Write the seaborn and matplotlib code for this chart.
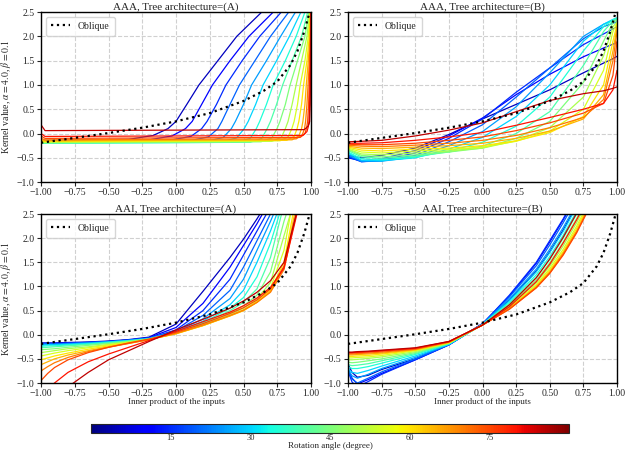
import numpy as np
import pandas as pd
import seaborn as sns
import matplotlib as mpl
import matplotlib.pyplot as plt

# rotation angles (degree) of the curves
angles = [5, 10, 15, 20, 25, 30, 35, 40, 45, 50, 55, 60, 65, 70, 75, 80, 85]

# oblique reference curve (same in all panels)
oblique_x = [-1.0, -0.75, -0.5, -0.25, 0.0, 0.25, 0.5, 0.65, 0.75, 0.85, 0.9, 0.95, 0.98, 1.0]
oblique_y = [-0.19, -0.09, 0.01, 0.12, 0.25, 0.42, 0.67, 0.88, 1.07, 1.42, 1.7, 2.1, 2.4, 2.6]

# AAA, tree (A): one x list and one y list per angle
aaa_a_x = [
    [-1, -0.97, -0.35, -0.17, -0.06, 0.0, 0.08, 0.17, 0.31, 0.45, 0.635],
    [-1, -0.97, -0.2, -0.03, 0.07, 0.12, 0.19, 0.27, 0.40, 0.54, 0.72],
    [-1, -0.97, -0.05, 0.11, 0.19, 0.23, 0.30, 0.37, 0.49, 0.62, 0.78],
    [-1, -0.97, 0.1, 0.24, 0.31, 0.34, 0.40, 0.47, 0.585, 0.70, 0.835],
    [-1, -0.97, 0.23, 0.35, 0.41, 0.44, 0.50, 0.56, 0.67, 0.775, 0.885],
    [-1, -0.97, 0.34, 0.45, 0.505, 0.535, 0.59, 0.645, 0.745, 0.84, 0.925],
    [-1, -0.97, 0.45, 0.55, 0.595, 0.62, 0.67, 0.72, 0.81, 0.89, 0.955],
    [-1, -0.97, 0.55, 0.635, 0.675, 0.70, 0.745, 0.79, 0.86, 0.93, 0.975],
    [-1, -0.97, 0.63, 0.71, 0.748, 0.77, 0.81, 0.845, 0.90, 0.955, 0.985],
    [-1, -0.97, 0.71, 0.78, 0.81, 0.83, 0.86, 0.89, 0.93, 0.97, 0.99],
    [-1, -0.97, 0.77, 0.83, 0.858, 0.875, 0.90, 0.92, 0.955, 0.98, 0.993],
    [-1, -0.97, 0.82, 0.875, 0.897, 0.91, 0.93, 0.945, 0.97, 0.987, 0.995],
    [-1, -0.97, 0.86, 0.91, 0.93, 0.94, 0.955, 0.965, 0.98, 0.992, 0.997],
    [-1, -0.97, 0.89, 0.935, 0.952, 0.96, 0.97, 0.978, 0.988, 0.995, 0.998],
    [-1, -0.97, 0.92, 0.955, 0.968, 0.975, 0.982, 0.987, 0.993, 0.997, 0.999],
    [-1, -0.97, 0.94, 0.97, 0.98, 0.985, 0.99, 0.993, 0.996, 0.998, 1.0],
    [-1, -0.97, 0.95, 0.978, 0.986, 0.99, 0.994, 0.996, 0.998, 0.999, 1.0],
]
aaa_a_y = [
    [-0.15, -0.14, -0.12, -0.04, 0.1, 0.25, 0.6, 1.0, 1.5, 2.0, 2.5],
    [-0.16, -0.15, -0.13, -0.05, 0.1, 0.25, 0.6, 1.0, 1.5, 2.0, 2.5],
    [-0.17, -0.16, -0.14, -0.06, 0.1, 0.25, 0.6, 1.0, 1.5, 2.0, 2.5],
    [-0.18, -0.17, -0.15, -0.07, 0.1, 0.25, 0.6, 1.0, 1.5, 2.0, 2.5],
    [-0.19, -0.18, -0.16, -0.08, 0.1, 0.25, 0.6, 1.0, 1.5, 2.0, 2.5],
    [-0.2, -0.19, -0.17, -0.09, 0.1, 0.25, 0.6, 1.0, 1.5, 2.0, 2.5],
    [-0.2, -0.2, -0.18, -0.1, 0.1, 0.25, 0.6, 1.0, 1.5, 2.0, 2.5],
    [-0.2, -0.2, -0.18, -0.1, 0.1, 0.25, 0.6, 1.0, 1.5, 2.0, 2.5],
    [-0.19, -0.19, -0.17, -0.09, 0.1, 0.25, 0.6, 1.0, 1.5, 2.0, 2.5],
    [-0.18, -0.18, -0.16, -0.08, 0.1, 0.25, 0.6, 1.0, 1.5, 2.0, 2.5],
    [-0.17, -0.17, -0.15, -0.07, 0.1, 0.25, 0.6, 1.0, 1.5, 2.0, 2.5],
    [-0.15, -0.16, -0.14, -0.06, 0.1, 0.25, 0.6, 1.0, 1.5, 2.0, 2.5],
    [-0.13, -0.15, -0.13, -0.05, 0.1, 0.25, 0.6, 1.0, 1.5, 2.0, 2.5],
    [-0.1, -0.13, -0.11, -0.03, 0.1, 0.25, 0.6, 1.0, 1.5, 2.0, 2.5],
    [-0.05, -0.1, -0.08, 0.0, 0.12, 0.25, 0.6, 1.0, 1.5, 2.0, 2.5],
    [0.0, -0.06, -0.04, 0.04, 0.14, 0.25, 0.6, 1.0, 1.5, 2.0, 2.5],
    [0.18, 0.06, 0.08, 0.15, 0.2, 0.25, 0.6, 1.0, 1.5, 2.0, 2.5],
]

# AAA, tree (B): values on a shared x grid
aaa_b_grid = [-1.0, -0.9, -0.75, -0.5, -0.25, 0.0, 0.25, 0.5, 0.75, 0.9, 0.97, 1.0]
aaa_b_y = [
    [-0.45, -0.5, -0.45, -0.3, -0.02, 0.3, 0.6, 0.9, 1.25, 1.45, 1.54, 1.59],
    [-0.5, -0.56, -0.52, -0.35, -0.05, 0.32, 0.8, 1.22, 1.58, 1.76, 1.84, 1.87],
    [-0.48, -0.58, -0.55, -0.4, -0.1, 0.3, 0.85, 1.35, 1.83, 2.05, 2.15, 2.2],
    [-0.46, -0.58, -0.56, -0.45, -0.17, 0.18, 0.75, 1.35, 1.95, 2.2, 2.27, 2.3],
    [-0.43, -0.57, -0.57, -0.48, -0.25, 0.04, 0.55, 1.25, 2.0, 2.25, 2.33, 2.36],
    [-0.4, -0.55, -0.56, -0.5, -0.32, -0.08, 0.35, 1.0, 1.9, 2.25, 2.35, 2.38],
    [-0.38, -0.52, -0.54, -0.49, -0.36, -0.18, 0.15, 0.75, 1.7, 2.2, 2.34, 2.38],
    [-0.35, -0.48, -0.51, -0.47, -0.38, -0.26, 0.0, 0.45, 1.4, 2.1, 2.32, 2.36],
    [-0.33, -0.45, -0.48, -0.44, -0.38, -0.3, -0.1, 0.25, 1.05, 1.9, 2.28, 2.34],
    [-0.32, -0.42, -0.44, -0.4, -0.36, -0.3, -0.15, 0.12, 0.75, 1.6, 2.2, 2.3],
    [-0.3, -0.38, -0.4, -0.36, -0.33, -0.28, -0.16, 0.05, 0.5, 1.3, 2.1, 2.28],
    [-0.28, -0.34, -0.36, -0.32, -0.3, -0.25, -0.15, 0.02, 0.35, 1.0, 1.9, 2.25],
    [-0.26, -0.3, -0.31, -0.28, -0.25, -0.2, -0.1, 0.05, 0.3, 0.8, 1.7, 2.2],
    [-0.24, -0.26, -0.27, -0.24, -0.2, -0.14, -0.04, 0.12, 0.33, 0.7, 1.5, 2.1],
    [-0.22, -0.23, -0.23, -0.2, -0.14, -0.07, 0.06, 0.22, 0.42, 0.62, 1.2, 1.9],
    [-0.2, -0.2, -0.19, -0.14, -0.07, 0.02, 0.17, 0.33, 0.5, 0.62, 0.9, 1.3],
    [-0.17, -0.16, -0.14, -0.05, 0.07, 0.22, 0.45, 0.68, 0.82, 0.88, 0.93, 0.96],
]

# AAI, tree (A)
aai_a_grid = [-1.0, -0.95, -0.9, -0.8, -0.65, -0.5, -0.35, -0.2, 0.0, 0.2, 0.4, 0.5, 0.6, 0.7, 0.8, 0.9]
aai_a_y = [
    [-0.17, -0.17, -0.17, -0.16, -0.15, -0.13, -0.1, -0.05, 0.22, 0.9, 1.6, 1.98, 2.4, 2.85, 3.3, 3.8],
    [-0.18, -0.18, -0.18, -0.17, -0.16, -0.14, -0.11, -0.06, 0.15, 0.65, 1.4, 1.85, 2.3, 2.8, 3.3, 3.8],
    [-0.18, -0.18, -0.18, -0.17, -0.16, -0.14, -0.11, -0.07, 0.1, 0.5, 1.15, 1.65, 2.15, 2.65, 3.2, 3.7],
    [-0.19, -0.19, -0.19, -0.18, -0.16, -0.14, -0.11, -0.07, 0.08, 0.4, 0.92, 1.4, 1.95, 2.5, 3.1, 3.7],
    [-0.2, -0.2, -0.2, -0.19, -0.17, -0.15, -0.12, -0.08, 0.06, 0.33, 0.75, 1.15, 1.75, 2.35, 3.0, 3.6],
    [-0.22, -0.21, -0.21, -0.2, -0.18, -0.15, -0.12, -0.08, 0.05, 0.28, 0.62, 0.92, 1.5, 2.15, 2.9, 3.6],
    [-0.24, -0.23, -0.23, -0.21, -0.19, -0.16, -0.13, -0.09, 0.04, 0.25, 0.55, 0.77, 1.2, 1.9, 2.8, 3.5],
    [-0.27, -0.26, -0.25, -0.23, -0.2, -0.17, -0.13, -0.09, 0.04, 0.23, 0.5, 0.67, 0.95, 1.6, 2.7, 3.5],
    [-0.31, -0.3, -0.29, -0.26, -0.22, -0.18, -0.14, -0.09, 0.04, 0.21, 0.45, 0.6, 0.82, 1.3, 2.35, 3.2],
    [-0.37, -0.35, -0.33, -0.29, -0.25, -0.2, -0.15, -0.1, 0.03, 0.2, 0.42, 0.55, 0.75, 1.08, 2.05, 3.0],
    [-0.44, -0.41, -0.38, -0.33, -0.27, -0.21, -0.16, -0.1, 0.03, 0.19, 0.4, 0.52, 0.7, 0.97, 1.75, 3.3],
    [-0.52, -0.48, -0.44, -0.38, -0.3, -0.23, -0.17, -0.1, 0.02, 0.19, 0.39, 0.5, 0.68, 0.92, 1.5, 3.0],
    [-0.62, -0.56, -0.5, -0.42, -0.33, -0.25, -0.18, -0.1, 0.02, 0.19, 0.39, 0.5, 0.67, 0.9, 1.4, 2.8],
    [-0.75, -0.66, -0.58, -0.47, -0.35, -0.26, -0.18, -0.1, 0.03, 0.2, 0.4, 0.51, 0.67, 0.88, 1.35, 2.65],
    [-0.95, -0.8, -0.68, -0.52, -0.37, -0.26, -0.17, -0.09, 0.05, 0.23, 0.44, 0.56, 0.72, 0.95, 1.42, 2.6],
    [-1.35, -1.15, -1.0, -0.78, -0.56, -0.4, -0.26, -0.12, 0.07, 0.27, 0.47, 0.6, 0.76, 0.98, 1.38, 2.55],
    [-2.0, -1.6, -1.35, -1.08, -0.78, -0.52, -0.33, -0.14, 0.1, 0.32, 0.55, 0.7, 0.88, 1.12, 1.5, 2.6],
]

# AAI, tree (B)
aai_b_grid = [-1.0, -0.97, -0.93, -0.85, -0.75, -0.5, -0.25, 0.0, 0.2, 0.4, 0.5, 0.6, 0.7, 0.8]
aai_b_y = [
    [-0.6, -0.78, -0.88, -0.84, -0.72, -0.5, -0.2, 0.23, 0.72, 1.32, 1.72, 2.17, 2.68, 3.2],
    [-0.7, -0.9, -1.02, -0.93, -0.8, -0.52, -0.21, 0.23, 0.8, 1.48, 1.92, 2.38, 2.88, 3.4],
    [-0.75, -0.98, -1.08, -0.97, -0.82, -0.52, -0.21, 0.22, 0.82, 1.5, 1.95, 2.4, 2.9, 3.4],
    [-0.74, -0.92, -1.0, -0.9, -0.77, -0.5, -0.21, 0.22, 0.78, 1.43, 1.86, 2.32, 2.82, 3.3],
    [-0.72, -0.85, -0.9, -0.82, -0.7, -0.47, -0.2, 0.22, 0.74, 1.36, 1.77, 2.22, 2.72, 3.25],
    [-0.7, -0.78, -0.8, -0.74, -0.65, -0.44, -0.2, 0.21, 0.7, 1.3, 1.7, 2.14, 2.65, 3.2],
    [-0.66, -0.7, -0.7, -0.66, -0.59, -0.41, -0.19, 0.21, 0.67, 1.24, 1.62, 2.06, 2.56, 3.1],
    [-0.62, -0.64, -0.63, -0.6, -0.54, -0.39, -0.18, 0.21, 0.64, 1.19, 1.56, 2.0, 2.5, 3.05],
    [-0.57, -0.58, -0.57, -0.54, -0.5, -0.37, -0.18, 0.21, 0.61, 1.13, 1.49, 1.92, 2.41, 2.95],
    [-0.52, -0.52, -0.51, -0.49, -0.46, -0.35, -0.17, 0.2, 0.58, 1.08, 1.42, 1.84, 2.32, 2.88],
    [-0.48, -0.48, -0.47, -0.46, -0.43, -0.33, -0.17, 0.2, 0.56, 1.04, 1.37, 1.77, 2.25, 2.8],
    [-0.45, -0.45, -0.44, -0.43, -0.4, -0.32, -0.16, 0.2, 0.55, 1.01, 1.33, 1.72, 2.2, 2.75],
    [-0.42, -0.42, -0.41, -0.4, -0.38, -0.31, -0.16, 0.2, 0.54, 0.99, 1.3, 1.69, 2.15, 2.7],
    [-0.4, -0.4, -0.39, -0.38, -0.36, -0.3, -0.15, 0.2, 0.53, 0.98, 1.28, 1.67, 2.13, 2.68],
    [-0.38, -0.38, -0.37, -0.36, -0.34, -0.29, -0.15, 0.2, 0.53, 0.97, 1.27, 1.65, 2.11, 2.66],
    [-0.37, -0.37, -0.36, -0.35, -0.33, -0.28, -0.14, 0.2, 0.58, 1.1, 1.46, 1.9, 2.38, 2.92],
    [-0.36, -0.36, -0.35, -0.34, -0.32, -0.27, -0.14, 0.2, 0.62, 1.18, 1.57, 2.02, 2.52, 3.05],
]

sns.set_style("ticks")
plt.rcParams['font.family'] = ['Liberation Serif', 'DejaVu Serif']
plt.rcParams['mathtext.fontset'] = 'stix'

jet = mpl.colormaps['jet']


def to_frame(xs_list, ys_list):
    rows = []
    for ang, xs, ys in zip(angles, xs_list, ys_list):
        for x, y in zip(xs, ys):
            rows.append((ang, x, y))
    return pd.DataFrame(rows, columns=['angle', 'x', 'y'])


def draw_panel(ax, df, title, left, bottom):
    sns.lineplot(data=df, x='x', y='y', hue='angle', palette=jet, hue_norm=(0, 90),
                 units='angle', estimator=None, legend=False, lw=0.9, ax=ax)
    sns.lineplot(x=oblique_x, y=oblique_y, color='black', linestyle=':', lw=1.6,
                 label='Oblique', ax=ax)
    ax.set_xlim(-1, 1)
    ax.set_ylim(-1, 2.5)
    ax.set_xticks(np.arange(-1, 1.01, 0.25))
    ax.set_yticks(np.arange(-1, 2.51, 0.5))
    ax.grid(True, linestyle='--', color='#d0d0d0', lw=0.8)
    ax.tick_params(labelsize=7, length=3, width=0.8, pad=1.5)
    for s in ax.spines.values():
        s.set_linewidth(1.0)
        s.set_color('black')
    ax.set_title(title, fontsize=8, pad=2)
    if left:
        ax.set_ylabel(r'Kernel value, $\alpha=4.0$, $\beta=0.1$', fontsize=7)
        ax.yaxis.set_label_coords(-0.105, 0.5)
    else:
        ax.set_ylabel('')
    if bottom:
        ax.set_xlabel('Inner product of the inputs', fontsize=6.5)
        ax.xaxis.set_label_coords(0.5, -0.088)
    else:
        ax.set_xlabel('')
    ax.legend(loc='upper left', fontsize=7, handlelength=2.0, borderpad=0.5)


fig = plt.figure(figsize=(6.25, 4.53), dpi=100)
ax1 = fig.add_axes([0.0656, 0.598, 0.432, 0.3753])
ax2 = fig.add_axes([0.5568, 0.598, 0.4304, 0.3753])
ax3 = fig.add_axes([0.0656, 0.1545, 0.432, 0.373])
ax4 = fig.add_axes([0.5568, 0.1545, 0.4304, 0.373])

draw_panel(ax1, to_frame(aaa_a_x, aaa_a_y), 'AAA, Tree architecture=(A)', True, False)
draw_panel(ax2, to_frame([aaa_b_grid] * len(angles), aaa_b_y), 'AAA, Tree architecture=(B)', False, False)
draw_panel(ax3, to_frame([aai_a_grid] * len(angles), aai_a_y), 'AAI, Tree architecture=(A)', True, True)
draw_panel(ax4, to_frame([aai_b_grid] * len(angles), aai_b_y), 'AAI, Tree architecture=(B)', False, True)

cax = fig.add_axes([0.1456, 0.0442, 0.765, 0.0195])
sm = mpl.cm.ScalarMappable(norm=mpl.colors.Normalize(0, 90), cmap=jet)
cb = fig.colorbar(sm, cax=cax, orientation='horizontal', ticks=[15, 30, 45, 60, 75])
cb.set_label('Rotation angle (degree)', fontsize=6.5)
cb.ax.xaxis.set_label_coords(0.5, -1.05)
cb.ax.tick_params(labelsize=6, length=0, pad=0.5)
cb.outline.set_linewidth(0.8)

fig.savefig('out.png', dpi=100)
